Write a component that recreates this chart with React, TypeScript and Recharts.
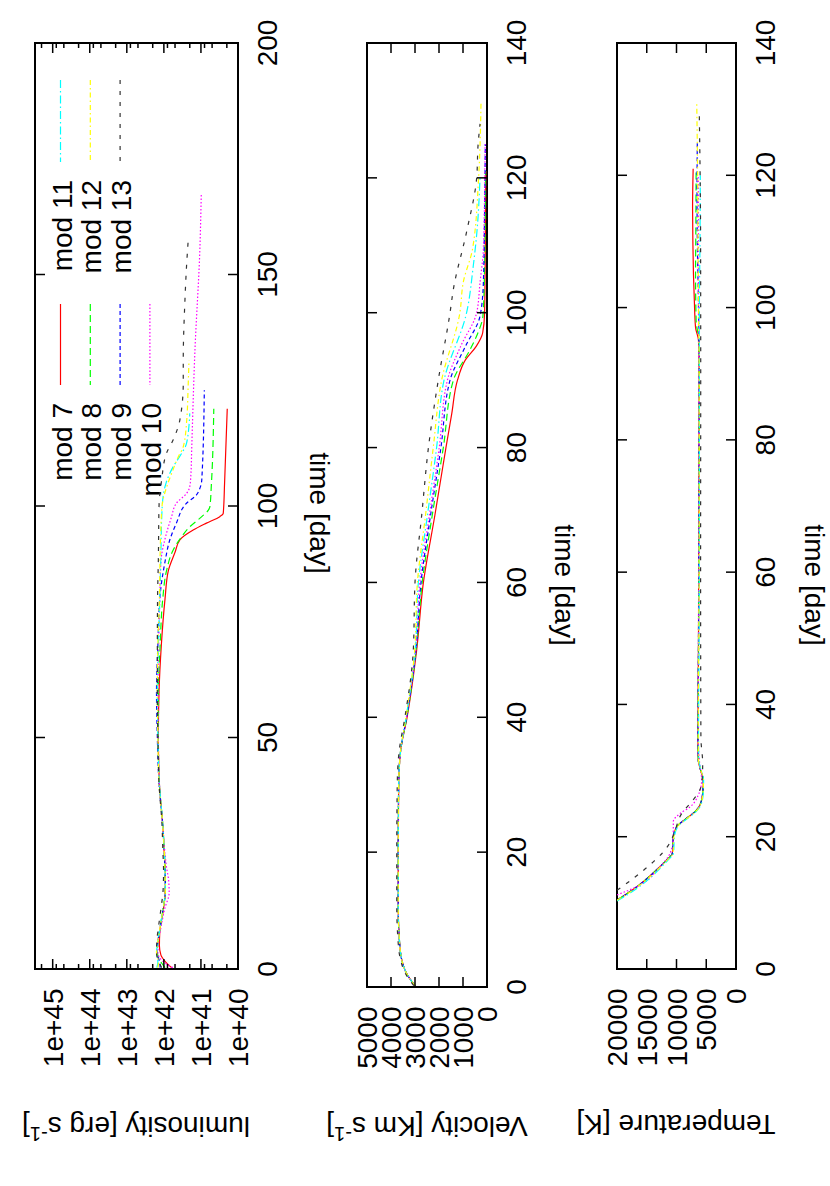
import React from "react"
import { LineChart, Line, XAxis, YAxis, ReferenceArea } from "recharts"

type Pt = [number, number]

// luminosity [erg s^-1] against time [day]
const lumMod7: Pt[] = [[0.3, 6.2e41], [1.5, 8.9e41], [3, 1.2e42], [5, 1.32e42], [8, 1.29e42], [12, 1.07e42], [16, 9.3e41], [20, 9.1e41], [25, 9.8e41], [30, 1.05e42], [40, 1.32e42], [50, 1.41e42], [60, 1.35e42], [70, 1.17e42], [80, 9.3e41], [86, 7.6e41], [90, 5.0e41], [92.7, 3.7e41], [94.8, 1.62e41], [96.3, 7.1e40], [97.7, 3.1e40], [98.4, 2.5e40], [105, 2.3e40], [121, 1.95e40]]
const lumMod8: Pt[] = [[0.3, 9.3e41], [1.5, 1.2e42], [3.5, 1.5e42], [6, 1.42e42], [9, 1.26e42], [13, 1.05e42], [17, 9.1e41], [21, 9.2e41], [26, 9.8e41], [31, 1.07e42], [40, 1.32e42], [50, 1.41e42], [60, 1.41e42], [70, 1.26e42], [80, 1.07e42], [86, 8.5e41], [90.5, 5.6e41], [93.4, 3.3e41], [95.5, 2.0e41], [97.7, 9.5e40], [99.1, 6.3e40], [99.8, 5.75e40], [105, 5.2e40], [121, 4.5e40]]
const lumMod9: Pt[] = [[0.3, 1.26e42], [1.5, 1.3e42], [3.5, 1.55e42], [6, 1.45e42], [9, 1.26e42], [13, 1.05e42], [17, 9.1e41], [21, 9.3e41], [26, 9.8e41], [31, 1.07e42], [40, 1.35e42], [50, 1.5e42], [60, 1.58e42], [70, 1.45e42], [80, 1.29e42], [88, 9.3e41], [92.7, 6.9e41], [96.3, 4.6e41], [100.6, 2.45e41], [102.4, 1.32e41], [103.8, 1.07e41], [105.6, 9.5e40], [125, 8.1e40]]
const lumMod10: Pt[] = [[0.3, 5.75e41], [1.5, 1.0e42], [3.5, 1.45e42], [6, 1.4e42], [9, 1.2e42], [13, 9.5e41], [16.5, 7.2e41], [19, 7.4e41], [22, 8.5e41], [26, 9.6e41], [31, 1.07e42], [40, 1.32e42], [50, 1.41e42], [60, 1.45e42], [70, 1.38e42], [80, 1.29e42], [88, 1.2e42], [94.1, 8.5e41], [97.5, 6.3e41], [100.6, 4.6e41], [102.7, 2.45e41], [104.2, 2.0e41], [107, 1.86e41], [112, 1.78e41], [133.7, 1.45e41], [155.3, 1.07e41], [167.2, 9.8e40]]
const lumMod11: Pt[] = [[0.3, 1.55e42], [1.5, 1.45e42], [3.5, 1.58e42], [6, 1.45e42], [9, 1.26e42], [13, 1.05e42], [17, 9.1e41], [21, 9.3e41], [26, 9.8e41], [31, 1.07e42], [40, 1.32e42], [50, 1.45e42], [60, 1.5e42], [70, 1.41e42], [80, 1.29e42], [90, 1.2e42], [97, 1.15e42], [102, 1.05e42], [105, 8.7e41], [108.5, 5.6e41], [111.4, 3.3e41], [113.5, 2.45e41], [120, 2.0e41]]
const lumMod12: Pt[] = [[0.3, 1.45e42], [1.5, 1.4e42], [3.5, 1.58e42], [6, 1.45e42], [9, 1.26e42], [13, 1.05e42], [17, 9.1e41], [21, 9.3e41], [26, 9.8e41], [31, 1.07e42], [40, 1.35e42], [50, 1.45e42], [60, 1.5e42], [70, 1.45e42], [80, 1.32e42], [90, 1.26e42], [100, 1.12e42], [104, 8.5e41], [107, 6.2e41], [110.6, 4.1e41], [112.8, 3.0e41], [117.9, 2.45e41], [126.5, 2.2e41], [131.5, 2.1e41]]
const lumMod13: Pt[] = [[0.3, 1.15e42], [1.5, 1.35e42], [3.5, 1.58e42], [6, 1.55e42], [9, 1.4e42], [13, 1.2e42], [17, 1.05e42], [21, 1.02e42], [26, 1.07e42], [31, 1.12e42], [40, 1.35e42], [50, 1.45e42], [60, 1.5e42], [70, 1.5e42], [80, 1.48e42], [88.3, 1.41e42], [100, 1.35e42], [105.6, 1.15e42], [111.4, 8.5e41], [114.3, 5.6e41], [118.6, 3.7e41], [126.5, 3.0e41], [131.5, 3.0e41], [144.5, 2.7e41], [151.7, 2.45e41], [157.5, 2.2e41]]

// velocity [km/s]
const velMod7: Pt[] = [[0.2, 3000], [2, 3350], [4, 3550], [7, 3650], [12, 3700], [20, 3700], [30, 3680], [35, 3600], [40, 3330], [50, 2930], [60, 2650], [70, 2170], [80, 1710], [85, 1470], [90, 1230], [93, 900], [95, 450], [97, 180], [100, 100], [110, 70], [121, 50]]
const velMod8: Pt[] = [[0.2, 3000], [2, 3350], [4, 3550], [7, 3650], [12, 3700], [20, 3700], [30, 3680], [35, 3600], [40, 3340], [50, 2950], [60, 2700], [70, 2280], [80, 1820], [90, 1400], [94.5, 710], [97, 380], [99.5, 170], [105, 110], [121, 60]]
const velMod9: Pt[] = [[0.2, 3000], [2, 3350], [4, 3550], [7, 3650], [12, 3700], [20, 3700], [30, 3680], [35, 3600], [40, 3350], [50, 2960], [60, 2750], [70, 2350], [80, 1920], [90, 1540], [95, 900], [99.5, 290], [104.5, 150], [115, 100], [125, 70]]
const velMod10: Pt[] = [[0.2, 3000], [2, 3350], [4, 3550], [7, 3650], [12, 3700], [20, 3700], [30, 3680], [35, 3600], [40, 3360], [50, 2970], [60, 2800], [70, 2400], [80, 1990], [90, 1650], [95, 1100], [100, 430], [104.5, 290], [109.5, 150], [125, 80]]
const velMod11: Pt[] = [[0.2, 3000], [2, 3350], [4, 3550], [7, 3650], [12, 3700], [20, 3700], [30, 3680], [35, 3600], [40, 3370], [50, 2990], [60, 2860], [70, 2480], [80, 2100], [90, 1790], [100, 850], [107, 570], [112, 420], [120, 290]]
const velMod12: Pt[] = [[0.2, 3000], [2, 3350], [4, 3550], [7, 3650], [12, 3700], [20, 3700], [30, 3680], [35, 3600], [40, 3380], [50, 3010], [60, 2900], [70, 2560], [80, 2240], [90, 1890], [100, 1130], [104.5, 990], [109.5, 600], [120, 350], [131, 250]]
const velMod13: Pt[] = [[0.2, 3050], [2, 3400], [4, 3600], [7, 3710], [12, 3760], [20, 3760], [30, 3740], [35, 3660], [40, 3420], [50, 3070], [60, 3000], [70, 2720], [80, 2440], [90, 2030], [100, 1540], [103.5, 1400], [112, 850], [120, 430], [125, 370], [128, 290]]

// photospheric temperature [K]
const tempMod7: Pt[] = [[10.4, 20000], [11.7, 17800], [13.2, 15580], [15, 13330], [16.5, 11650], [17.5, 10700], [20, 10530], [21.5, 9970], [22.8, 8290], [23.8, 6890], [24.8, 6050], [26.6, 5600], [28.6, 5490], [30, 5930], [31.6, 6340], [35, 6400], [50, 6300], [70, 6250], [90, 6200], [95, 6300], [97, 6800], [101, 7000], [105, 7150], [110, 7250], [115, 7300], [121, 7200]]
const tempMod8: Pt[] = [[10.4, 20000], [11.7, 17800], [13.2, 15580], [15, 13330], [16.5, 11650], [17.5, 10700], [20, 10530], [21.5, 9970], [22.8, 8290], [23.8, 6890], [24.8, 6050], [26.6, 5600], [28.6, 5490], [30, 5930], [31.6, 6340], [35, 6400], [50, 6300], [70, 6250], [90, 6200], [95, 6250], [98, 6700], [105, 6800], [112, 6750], [121, 6700]]
const tempMod9: Pt[] = [[10.4, 20000], [11.7, 17800], [13.2, 15580], [15, 13330], [16.5, 11650], [17.5, 10700], [20, 10530], [21.5, 9970], [22.8, 8290], [23.8, 6890], [24.8, 6050], [26.6, 5600], [28.6, 5490], [30, 5930], [31.6, 6340], [35, 6400], [50, 6300], [70, 6250], [90, 6200], [100, 6300], [110, 6500], [118, 6550], [125, 6500]]
const tempMod10: Pt[] = [[11.2, 20000], [12.7, 16130], [15.5, 12770], [17, 11370], [18.2, 10800], [19, 10550], [22.3, 10530], [23.5, 9410], [24.5, 7730], [26.3, 6340], [28.6, 5770], [31, 6100], [35, 6350], [50, 6300], [70, 6250], [90, 6250], [100, 6300], [110, 6300], [120, 6350]]
const tempMod11: Pt[] = [[10.3, 20000], [11.6, 17600], [13.1, 15300], [15, 13000], [16.5, 11400], [17.5, 10500], [20, 10350], [21.5, 9800], [22.8, 8100], [23.8, 6700], [24.8, 5900], [26.6, 5500], [28.6, 5450], [30, 5850], [31.6, 6250], [35, 6300], [50, 6200], [70, 6150], [90, 6150], [100, 6150], [110, 6050], [120, 6000]]
const tempMod12: Pt[] = [[10.4, 20000], [11.7, 17700], [13.2, 15450], [15, 13200], [16.5, 11550], [17.5, 10600], [20, 10450], [21.5, 9900], [22.8, 8200], [23.8, 6800], [24.8, 6000], [26.6, 5550], [28.6, 5470], [30, 5900], [31.6, 6300], [35, 6350], [50, 6250], [70, 6200], [90, 6200], [100, 6300], [110, 6400], [120, 6450], [131, 6600]]
const tempMod13: Pt[] = [[11.9, 20000], [13.7, 17260], [16.2, 13900], [17.7, 12220], [18.7, 11380], [20.5, 10400], [23.5, 9130], [25.3, 7450], [26.6, 6340], [28.5, 5700], [31.1, 5600], [35, 5900], [60, 5950], [90, 5930], [110, 5950], [129.4, 6170]]

const lumTicks = [1e40, 2e40, 5e40, 8e40, 1e41, 2e41, 5e41, 8e41, 1e42, 2e42, 5e42, 8e42, 1e43, 2e43, 5e43, 8e43, 1e44, 2e44, 5e44, 8e44, 1e45, 2e45]
const velTicks = [0, 1000, 2000, 3000, 4000, 5000]
const tempTicks = [0, 5000, 10000, 15000, 20000]
const time200Ticks = [0, 50, 100, 150, 200]
const time140Ticks = [0, 20, 40, 60, 80, 100, 120, 140]

const models = [
  { name: "mod 7", color: "#ff0000", dash: undefined, lum: lumMod7, vel: velMod7, temp: tempMod7 },
  { name: "mod 8", color: "#00ff00", dash: "7 4", lum: lumMod8, vel: velMod8, temp: tempMod8 },
  { name: "mod 9", color: "#0000ff", dash: "4 3", lum: lumMod9, vel: velMod9, temp: tempMod9 },
  { name: "mod 10", color: "#ff00ff", dash: "1.5 2", lum: lumMod10, vel: velMod10, temp: tempMod10 },
  { name: "mod 11", color: "#00ffff", dash: "8 3 1.5 3", lum: lumMod11, vel: velMod11, temp: tempMod11 },
  { name: "mod 12", color: "#ffff00", dash: "5 3 1.5 3", lum: lumMod12, vel: velMod12, temp: tempMod12 },
  { name: "mod 13", color: "#333333", dash: "4 7", lum: lumMod13, vel: velMod13, temp: tempMod13 },
]

const FONT = '"Liberation Sans", Arial, Helvetica, sans-serif'
const FS = 28

const toRows = (pts: Pt[]) => pts.map(([t, v]) => ({ t, v }))

const isDecade = (v: number) => Math.abs(Math.log10(v) - Math.round(Math.log10(v))) < 1e-6

const ValueTick = (props: any) => {
  const { x, y, payload, top, fmt, isMajor } = props
  const major = isMajor(payload.value)
  const len = major ? 10 : 5
  const ly = y + 19.5
  return (
    <g>
      <line x1={x} y1={y} x2={x} y2={y - len} stroke="#000" strokeWidth={1.5} />
      <line x1={x} y1={top} x2={x} y2={top + len} stroke="#000" strokeWidth={1.5} />
      {major && (
        <text x={x} y={ly} dy="0.36em" textAnchor="end" transform={`rotate(-90 ${x} ${ly})`}
          fontSize={FS} fontFamily={FONT} fill="#000">
          {fmt(payload.value)}
        </text>
      )}
    </g>
  )
}

const TimeTick = (props: any) => {
  const { x, y, payload, left } = props
  const lx = x + 29
  return (
    <g>
      <line x1={x} y1={y} x2={x - 10} y2={y} stroke="#000" strokeWidth={1.5} />
      <line x1={left} y1={y} x2={left + 10} y2={y} stroke="#000" strokeWidth={1.5} />
      <text x={lx} y={y} dy="0.36em" textAnchor="middle" transform={`rotate(-90 ${lx} ${y})`}
        fontSize={FS} fontFamily={FONT} fill="#000">
        {payload.value}
      </text>
    </g>
  )
}

type Box = { left: number; right: number; top: number; bottom: number }

type PanelProps = {
  box: Box
  field: "lum" | "vel" | "temp"
  xDomain: [number, number]
  xTicks: number[]
  logScale?: boolean
  fmt: (v: number) => string
  isMajor: (v: number) => boolean
  tMax: number
  tTicks: number[]
  timeTitle: [number, number]
  valueTitle: [number, number]
  title: React.ReactNode
  children?: React.ReactNode
}

function Panel(p: PanelProps) {
  const { box } = p
  // axes get 1px of room each (a zero-size axis is not drawn at all)
  return (
    <LineChart
      layout="vertical"
      width={830}
      height={1186}
      margin={{ top: box.top, left: box.left, right: 830 - box.right - 1, bottom: 1186 - box.bottom - 1 }}
      style={{ position: "absolute", left: 0, top: 0 }}
    >
      <XAxis
        type="number"
        dataKey="v"
        scale={p.logScale ? "log" : "auto"}
        domain={p.xDomain}
        allowDataOverflow
        reversed
        ticks={p.xTicks}
        interval={0}
        height={1}
        tickSize={0}
        tickMargin={0}
        axisLine={false}
        tickLine={false}
        tick={<ValueTick top={box.top} fmt={p.fmt} isMajor={p.isMajor} />}
      />
      <YAxis
        type="number"
        dataKey="t"
        orientation="right"
        domain={[0, p.tMax]}
        allowDataOverflow
        reversed
        ticks={p.tTicks}
        interval={0}
        width={1}
        tickSize={0}
        tickMargin={0}
        axisLine={false}
        tickLine={false}
        tick={<TimeTick left={box.left} />}
      />
      {models.map((m) => (
        <Line
          key={m.name}
          data={toRows(m[p.field])}
          dataKey="v"
          name={m.name}
          type="monotone"
          stroke={m.color}
          strokeWidth={1.2}
          strokeDasharray={m.dash}
          dot={false}
          activeDot={false}
          isAnimationActive={false}
        />
      ))}
      <ReferenceArea
        x1={p.xDomain[0]}
        x2={p.xDomain[1]}
        y1={0}
        y2={p.tMax}
        fill="none"
        fillOpacity={0}
        stroke="#000"
        strokeWidth={2}
        ifOverflow="visible"
      />
      <text x={p.timeTitle[0]} y={p.timeTitle[1]} dy="0.35em" textAnchor="middle"
        transform={`rotate(90 ${p.timeTitle[0]} ${p.timeTitle[1]})`} fontSize={FS} fontFamily={FONT} fill="#000">
        time [day]
      </text>
      <text x={p.valueTitle[0]} y={p.valueTitle[1]} dy="0.35em" textAnchor="middle"
        transform={`rotate(180 ${p.valueTitle[0]} ${p.valueTitle[1]})`} fontSize={FS} fontFamily={FONT} fill="#000">
        {p.title}
      </text>
      {p.children}
    </LineChart>
  )
}

function KeyEntries() {
  return (
    <g>
      {models.map((m, i) => {
        const col = i < 4 ? i : i - 4
        const [y1, y2, yt] = i < 4 ? [304, 385, 403] : [80, 162, 180]
        const x = 60.5 + col * 29.8
        return (
          <g key={m.name}>
            <line x1={x} y1={y1} x2={x} y2={y2} stroke={m.color} strokeWidth={1.2} strokeDasharray={m.dash} />
            <text x={x + 1} y={yt} dy="0.36em" textAnchor="end" transform={`rotate(-90 ${x + 1} ${yt})`}
              fontSize={FS} fontFamily={FONT} fill="#000">
              {m.name}
            </text>
          </g>
        )
      })}
    </g>
  )
}

const sup = (unit: string) => (
  <>
    {unit}
    <tspan dy={-10} fontSize={20}>-1</tspan>
    <tspan dy={10}>]</tspan>
  </>
)

export default function App() {
  return (
    <div style={{ position: "absolute", left: 0, top: 0, width: 830, height: 1186, background: "#fff" }}>
      <Panel
        box={{ left: 35, right: 238, top: 43, bottom: 969 }}
        field="lum"
        xDomain={[1e40, 3e45]}
        xTicks={lumTicks}
        logScale
        fmt={(v) => `1e+${Math.round(Math.log10(v))}`}
        isMajor={isDecade}
        tMax={200}
        tTicks={time200Ticks}
        timeTitle={[320, 513]}
        valueTitle={[136, 1127]}
        title={sup("luminosity [erg s")}
      >
        <KeyEntries />
      </Panel>
      <Panel
        box={{ left: 367, right: 487, top: 43, bottom: 987 }}
        field="vel"
        xDomain={[0, 5000]}
        xTicks={velTicks}
        fmt={(v) => String(v)}
        isMajor={() => true}
        tMax={140}
        tTicks={time140Ticks}
        timeTitle={[565, 585]}
        valueTitle={[427, 1127]}
        title={sup("Velocity [Km s")}
      />
      <Panel
        box={{ left: 617, right: 736, top: 43, bottom: 969 }}
        field="temp"
        xDomain={[0, 20000]}
        xTicks={tempTicks}
        fmt={(v) => String(v)}
        isMajor={() => true}
        tMax={140}
        tTicks={time140Ticks}
        timeTitle={[815, 585]}
        valueTitle={[676, 1125]}
        title="Temperature [K]"
      />
    </div>
  )
}
